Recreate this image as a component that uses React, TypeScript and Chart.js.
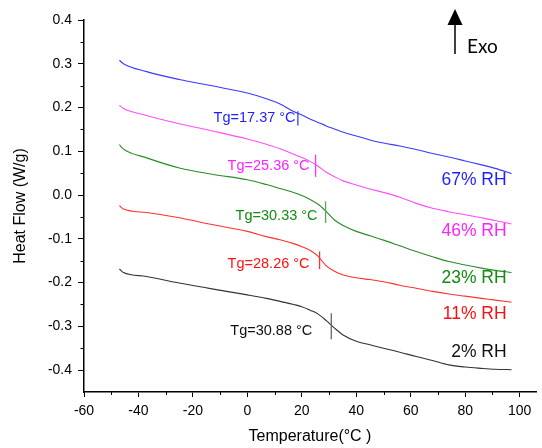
import React, { useEffect, useRef } from "react";
import { Chart, registerables } from "chart.js";

Chart.register(...registerables);

// Temperatures (°C) at which the curves are sampled
const temperatures = [-47, -45.5, -37, -25, -12.5, 0, 7, 12, 17, 20, 23, 26, 29, 32, 35, 40, 45, 50, 56, 62, 68, 74, 80, 86, 91, 97];

// Heat flow (W/g) per relative humidity
const rh67 = [0.308, 0.3, 0.282, 0.264, 0.249, 0.233, 0.22, 0.208, 0.191, 0.183, 0.174, 0.166, 0.158, 0.151, 0.144, 0.135, 0.126, 0.119, 0.112, 0.104, 0.095, 0.087, 0.078, 0.069, 0.061, 0.049];
const rh46 = [0.205, 0.198, 0.182, 0.163, 0.146, 0.128, 0.116, 0.106, 0.093, 0.086, 0.077, 0.066, 0.052, 0.042, 0.033, 0.023, 0.014, 0.006, -0.005, -0.019, -0.03, -0.038, -0.045, -0.052, -0.058, -0.066];
const rh23 = [0.115, 0.105, 0.085, 0.062, 0.047, 0.035, 0.024, 0.015, 0.006, -0.001, -0.01, -0.021, -0.038, -0.057, -0.069, -0.083, -0.093, -0.103, -0.116, -0.129, -0.141, -0.152, -0.16, -0.167, -0.172, -0.177];
const rh11 = [-0.024, -0.032, -0.04, -0.052, -0.068, -0.083, -0.095, -0.102, -0.111, -0.118, -0.126, -0.14, -0.162, -0.174, -0.182, -0.189, -0.193, -0.198, -0.206, -0.213, -0.22, -0.226, -0.231, -0.236, -0.24, -0.245];
const rh2 = [-0.169, -0.177, -0.186, -0.201, -0.215, -0.228, -0.236, -0.243, -0.25, -0.255, -0.263, -0.272, -0.287, -0.304, -0.319, -0.334, -0.342, -0.35, -0.359, -0.369, -0.378, -0.388, -0.393, -0.396, -0.398, -0.399];

const seriesLabels = ["67% RH", "46% RH", "23% RH", "11% RH", "2% RH"];
const seriesValues = [rh67, rh46, rh23, rh11, rh2];

// Glass transition annotations
const tgLabels = ["Tg=17.37 °C", "Tg=25.36 °C", "Tg=30.33 °C", "Tg=28.26 °C", "Tg=30.88 °C"];
const tgMarkX = [18.55, 25.05, 28.72, 26.52, 30.82];
const tgMarkTop = [0.1917, 0.0925, -0.0144, -0.1288, -0.2699];
const tgMarkBottom = [0.1589, 0.0415, -0.0638, -0.1691, -0.3294];
const tgLabelX = [17.7, 22.84, 25.78, 22.84, 23.83];
const tgLabelY = [0.177, 0.0673, -0.047, -0.157, -0.3097];

// Right-hand series labels
const rhLabelX = 95.2;
const rhLabelY = [0.0337, -0.083, -0.19, -0.2715, -0.359];

// Axis ticks
const xTicks = [-60, -40, -20, 0, 20, 40, 60, 80, 100];
const xMinorTicks = [-50, -30, -10, 10, 30, 50, 70, 90];
const yTicks = [-0.4, -0.3, -0.2, -0.1, 0, 0.1, 0.2, 0.3, 0.4];
const yMinorTicks = [-0.35, -0.25, -0.15, -0.05, 0.05, 0.15, 0.25, 0.35];

// Styles
const lineColors = ["#3a3aff", "#ff4cff", "#2a8a2a", "#ff3030", "#333333"];
const textColors = ["#1e1eff", "#ff22ff", "#138a13", "#ff1010", "#111111"];
const markColors = ["#3a3aff", "#ff33ff", "#5aa55a", "#ff3030", "#666666"];
const FONT = "'Liberation Sans', Arial, sans-serif";

const decorPlugin = {
  id: "decor",
  afterDraw(chart: any) {
    const { ctx, chartArea } = chart;
    const x = chart.scales.x;
    const y = chart.scales.y;
    ctx.save();
    // minor ticks
    ctx.strokeStyle = "#000";
    ctx.lineWidth = 1;
    xMinorTicks.forEach((v) => {
      const px = Math.round(x.getPixelForValue(v)) + 0.5;
      ctx.beginPath();
      ctx.moveTo(px, chartArea.bottom);
      ctx.lineTo(px, chartArea.bottom + 3);
      ctx.stroke();
    });
    yMinorTicks.forEach((v) => {
      const py = Math.round(y.getPixelForValue(v)) + 0.5;
      ctx.beginPath();
      ctx.moveTo(chartArea.left, py);
      ctx.lineTo(chartArea.left - 3.5, py);
      ctx.stroke();
    });
    // Tg marks and labels
    ctx.font = `14.5px ${FONT}`;
    ctx.textAlign = "right";
    ctx.textBaseline = "middle";
    for (let i = 0; i < tgLabels.length; i++) {
      const px = x.getPixelForValue(tgMarkX[i]);
      ctx.strokeStyle = markColors[i];
      ctx.lineWidth = 1.3;
      ctx.beginPath();
      ctx.moveTo(px, y.getPixelForValue(tgMarkTop[i]));
      ctx.lineTo(px, y.getPixelForValue(tgMarkBottom[i]));
      ctx.stroke();
      ctx.fillStyle = textColors[i];
      ctx.fillText(tgLabels[i], x.getPixelForValue(tgLabelX[i]), y.getPixelForValue(tgLabelY[i]));
    }
    // RH labels
    ctx.font = `17.5px ${FONT}`;
    for (let i = 0; i < seriesLabels.length; i++) {
      ctx.fillStyle = textColors[i];
      ctx.fillText(seriesLabels[i], x.getPixelForValue(rhLabelX), y.getPixelForValue(rhLabelY[i]));
    }
    // Exo arrow
    ctx.strokeStyle = "#000";
    ctx.fillStyle = "#000";
    ctx.lineWidth = 1.5;
    ctx.beginPath();
    ctx.moveTo(455, 22);
    ctx.lineTo(455, 54);
    ctx.stroke();
    ctx.beginPath();
    ctx.moveTo(455, 9);
    ctx.lineTo(462.5, 25);
    ctx.lineTo(447.5, 25);
    ctx.closePath();
    ctx.fill();
    ctx.font = "19px Lato, 'Open Sans', sans-serif";
    ctx.textAlign = "left";
    ctx.textBaseline = "middle";
    ctx.fillText("Exo", 467, 47);
    ctx.restore();
  },
};

export default function App() {
  const canvasRef = useRef<HTMLCanvasElement | null>(null);

  useEffect(() => {
    const canvas = canvasRef.current;
    if (!canvas) return;
    const datasets = seriesLabels.map((label, i) => ({
      label,
      data: temperatures.map((t, j) => ({ x: t, y: seriesValues[i][j] })),
      borderColor: lineColors[i],
      backgroundColor: lineColors[i],
      borderWidth: 1.1,
      pointRadius: 0,
      cubicInterpolationMode: "monotone" as const,
      fill: false,
    }));
    const chart = new Chart(canvas, {
      type: "line",
      data: { datasets },
      plugins: [decorPlugin],
      options: {
        responsive: false,
        animation: false,
        devicePixelRatio: 1,
        layout: { padding: { top: 20, right: 6, left: 0, bottom: 0 } },
        plugins: { legend: { display: false }, tooltip: { enabled: false } },
        scales: {
          x: {
            type: "linear",
            min: -60,
            max: 106,
            afterBuildTicks: (s: any) => {
              s.ticks = xTicks.map((value) => ({ value }));
            },
            afterFit: (s: any) => {
              s.height = 56;
            },
            ticks: {
              color: "#000",
              font: { family: FONT, size: 14 },
              padding: 6,
              maxRotation: 0,
              autoSkip: false,
              callback: (v: any) => String(v),
            },
            grid: { drawOnChartArea: false, drawTicks: true, tickLength: 5, tickColor: "#000", tickWidth: 1 },
            border: { color: "#000", width: 1.5 },
            title: {
              display: true,
              text: "Temperature(°C )",
              color: "#000",
              font: { family: FONT, size: 16 },
              padding: { top: 0, bottom: 2 },
            },
          },
          y: {
            type: "linear",
            min: -0.45,
            max: 0.4,
            afterBuildTicks: (s: any) => {
              s.ticks = yTicks.map((value) => ({ value }));
            },
            afterFit: (s: any) => {
              s.width = 84;
            },
            ticks: {
              color: "#000",
              font: { family: FONT, size: 14 },
              padding: 6,
              autoSkip: false,
              callback: (v: any) => Number(v).toFixed(1),
            },
            grid: { drawOnChartArea: false, drawTicks: true, tickLength: 6, tickColor: "#000", tickWidth: 1 },
            border: { color: "#000", width: 1.5 },
            title: {
              display: true,
              text: "Heat Flow (W/g)",
              color: "#000",
              font: { family: FONT, size: 16 },
              padding: { top: 11, bottom: 0 },
            },
          },
        },
      },
    });
    return () => chart.destroy();
  }, []);

  return (
    <div style={{ position: "fixed", left: 0, top: 0, width: 542, height: 448, background: "#fff" }}>
      <canvas ref={canvasRef} width={542} height={448} style={{ display: "block" }} />
    </div>
  );
}
